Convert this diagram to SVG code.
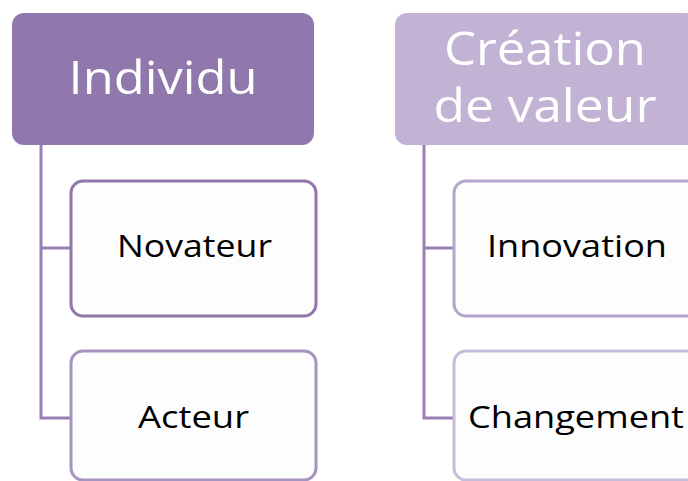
<svg xmlns="http://www.w3.org/2000/svg" width="688" height="481" viewBox="0 0 688 481">
<style>
.hdr{font-family:"Open Sans","Liberation Sans",sans-serif;fill:#ffffff;text-anchor:middle;font-size:46px}
.lbl{font-family:"Open Sans","Liberation Sans",sans-serif;fill:#000000;text-anchor:middle;font-size:31px}
.child{fill:#fdfdfd;stroke-width:3}
.conn{fill:none;stroke:#9880b6;stroke-width:3}
</style>
<rect width="688" height="481" fill="#ffffff"/>
<g id="connectors">
<path class="conn" d="M41,145 V418 H71 M41,248 H71"/>
<path class="conn" d="M424,145 V418 H454 M424,248 H454"/>
</g>
<g id="individu">
<rect x="12" y="13" width="302" height="132" rx="12" fill="#9077ac"/>
<text class="hdr" x="163" y="94" font-size="47" textLength="189" lengthAdjust="spacingAndGlyphs">Individu</text>
</g>
<g id="creation">
<rect x="395" y="13" width="302" height="132" rx="12" fill="#c2b2d3"/>
<text class="hdr" x="545" y="65" textLength="202" lengthAdjust="spacingAndGlyphs">Création</text>
<text class="hdr" x="545" y="122" textLength="223" lengthAdjust="spacingAndGlyphs">de valeur</text>
</g>
<g id="novateur">
<rect class="child" x="71" y="181" width="245" height="135" rx="12" stroke="#9077ac"/>
<text class="lbl" x="194.5" y="257" textLength="155" lengthAdjust="spacingAndGlyphs">Novateur</text>
</g>
<g id="acteur">
<rect class="child" x="71" y="351" width="245" height="129" rx="12" stroke="#a593c0"/>
<text class="lbl" x="193.5" y="428" textLength="111" lengthAdjust="spacingAndGlyphs">Acteur</text>
</g>
<g id="innovation">
<rect class="child" x="454" y="181" width="245" height="135" rx="12" stroke="#b4a5cc"/>
<text class="lbl" x="577" y="257" textLength="180" lengthAdjust="spacingAndGlyphs">Innovation</text>
</g>
<g id="changement">
<rect class="child" x="454" y="351" width="245" height="129" rx="12" stroke="#c8bcdb"/>
<text class="lbl" x="576" y="428" textLength="216" lengthAdjust="spacingAndGlyphs">Changement</text>
</g>
</svg>
